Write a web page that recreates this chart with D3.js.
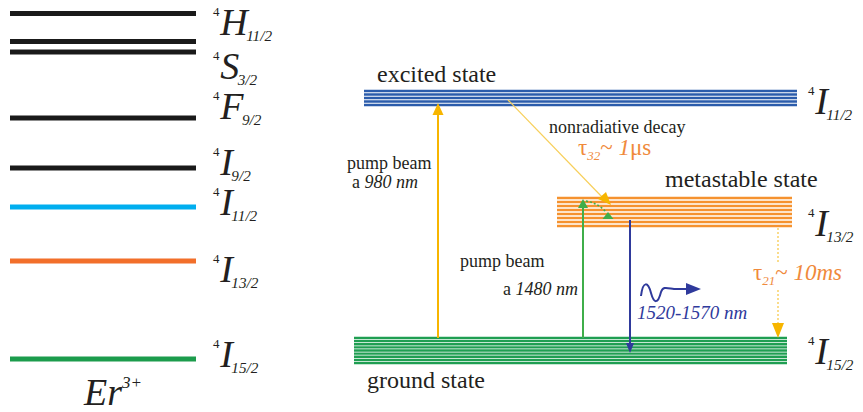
<!DOCTYPE html>
<html><head><meta charset="utf-8">
<script src="https://cdn.jsdelivr.net/npm/d3@7"></script>
<style>
body{margin:0;background:#fff}
svg{display:block}
text{fill:#231f20}
</style>
</head><body><svg id="svg"></svg>
<script>
const WIDTH = 863, HEIGHT = 412;
const FONT = "'Liberation Serif','Times New Roman',serif";

// Er3+ levels (left), energies in cm^-1
const levelLetters = ["H", "", "S", "F", "I", "I", "I", "I"];
const levelJ = ["11/2", "", "3/2", "9/2", "9/2", "11/2", "13/2", "15/2"];
const levelEnergy = [22900, 21050, 20350, 15980, 12660, 10080, 6500, 0];

// right: three level scheme
const bandNames = ["excited state", "metastable state", "ground state"];
const bandJ = ["11/2", "13/2", "15/2"];
const bandLineCount = [5, 8, 9];

// layout / style
const levelColors = ["#1a1a1a","#1a1a1a","#1a1a1a","#1a1a1a","#1a1a1a","#00aeef","#f26f2a","#1c9c4c"];
const levelLabelDy = [21, 0, 27, 1, 7, 8, 21, 8];
const bandColors = ["#2b5cab", "#f5922f", "#1f9e52"];
const bandX = [[364,797],[557,792],[354,787]];
const bandLabelY = [114, 236, 364];
const gold = "#f7b500", orangeTxt = "#f08a3c", navy = "#2f3a9c";

const svg = d3.select('#svg').attr('width',WIDTH).attr('height',HEIGHT).attr('font-family',FONT);
svg.append('rect').attr('width',WIDTH).attr('height',HEIGHT).attr('fill','#fff');

const y = d3.scaleLinear().domain([0, 22900]).range([359, 13.5]);

// term symbol like  ^4 I_{11/2}
function term(x, base, letter, j, size){
    let g = svg.append('g');
    g.append('text').attr('x',x).attr('y',base - size*0.5).attr('font-size',size*0.34).text('4');
    let L = g.append('text').attr('x',x + size*0.19).attr('y',base)
        .attr('font-size',size).attr('font-style','italic').text(letter);
    let w = L.node().getComputedTextLength();
    g.append('text').attr('x',x + size*0.19 + w - size*0.04).attr('y',base + size*0.16)
        .attr('font-size',size*0.4).attr('font-style','italic').text(j);
}

// left ladder
svg.selectAll('line.level').data(levelEnergy).enter().append('line')
    .attr('class','level')
    .attr('x1',10).attr('x2',196)
    .attr('y1',d => y(d)).attr('y2',d => y(d))
    .attr('stroke',(d,i) => levelColors[i]).attr('stroke-width',5);

levelEnergy.forEach((e,i) => {
    if(levelLetters[i]) term(213, y(e) + levelLabelDy[i], levelLetters[i], levelJ[i], 38);
});

svg.append('text').attr('x',84).attr('y',405).attr('font-size',38).attr('font-style','italic').text('Er');
svg.append('text').attr('x',122).attr('y',388).attr('font-size',17).attr('font-style','italic').text('3+');

// right bands
const bandTop = d3.scaleOrdinal().domain(bandNames).range([91, 198, 338]);
const bandBot = d3.scaleOrdinal().domain(bandNames).range([105, 226, 363]);

bandNames.forEach((name,i) => {
    let n = bandLineCount[i], t = bandTop(name), b = bandBot(name);
    let ys = d3.range(n).map(k => t + k*(b - t)/(n - 1));
    svg.append('g').selectAll('line').data(ys).enter().append('line')
        .attr('x1',bandX[i][0]).attr('x2',bandX[i][1])
        .attr('y1',d => d).attr('y2',d => d)
        .attr('stroke',bandColors[i]).attr('stroke-width',2.3);
    term(808, bandLabelY[i], 'I', bandJ[i], 38);
});

svg.append('text').attr('x',377).attr('y',82).attr('font-size',24).text(bandNames[0]);
svg.append('text').attr('x',665).attr('y',187).attr('font-size',24).text(bandNames[1]);
svg.append('text').attr('x',367).attr('y',388).attr('font-size',24).text(bandNames[2]);

// arrows
function head(x, yy, dir, w, h, color){
    // dir: 1 points up, -1 down; yy is the tip
    svg.append('path')
        .attr('d',`M${x},${yy} L${x - w/2},${yy + dir*h} L${x + w/2},${yy + dir*h} Z`)
        .attr('fill',color);
}
function line(x1,y1,x2,y2,color,w,dash){
    let l = svg.append('line').attr('x1',x1).attr('y1',y1).attr('x2',x2).attr('y2',y2)
        .attr('stroke',color).attr('stroke-width',w);
    if(dash) l.attr('stroke-dasharray',dash);
    return l;
}

// 980 nm pump
line(438, 338, 438, 110, gold, 2);
head(438, 103, 1, 11, 12, gold);
// nonradiative decay
line(508, 100, 604, 199, '#f7cf5a', 1.2);
svg.append('path').attr('d','M611,205 L598,199 L606,192 Z').attr('fill',gold);
// 1480 nm pump
line(583, 338, 583, 206, '#3fae4a', 2);
head(583, 199, 1, 10, 9, '#3fae4a');
svg.append('path').attr('d','M586,201 Q598,203 606,212').attr('fill','none')
    .attr('stroke','#3fae4a').attr('stroke-width',1.5).attr('stroke-dasharray','2,2');
head(608, 212, 1, 11, 7, '#3fae4a');
// emission
line(630, 220, 630, 345, navy, 2);
head(630, 353, -1, 8, 10, navy);
svg.append('path')
    .attr('d','M641,296 C643,280 648,282 651,293 C654,304 658,304 661,292 C663,286 667,288 674,289 L688,289')
    .attr('fill','none').attr('stroke',navy).attr('stroke-width',2);
svg.append('path').attr('d','M701,289 L686,283 L686,295 Z').attr('fill',navy);
// tau21 decay
line(778, 228, 778, 264, '#f7c640', 1.2, '2,2');
line(778, 290, 778, 324, '#f7c640', 1.2, '2,2');
head(778, 338, -1, 12, 15, gold);

// text
svg.append('text').attr('x',347).attr('y',169).attr('font-size',18).text('pump beam');
let t980 = svg.append('text').attr('x',352).attr('y',188).attr('font-size',18);
t980.append('tspan').text('a ');
t980.append('tspan').attr('font-style','italic').text('980 nm');

svg.append('text').attr('x',549).attr('y',133).attr('font-size',18).text('nonradiative decay');
let tau32 = svg.append('text').attr('x',578).attr('y',155).attr('font-size',23).style('fill',orangeTxt);
tau32.append('tspan').text('τ');
tau32.append('tspan').attr('font-size',13).attr('font-style','italic').attr('dy',5).text('32');
tau32.append('tspan').attr('dy',-5).text('~ ');
tau32.append('tspan').attr('font-style','italic').text('1');
tau32.append('tspan').text('μs');

svg.append('text').attr('x',460).attr('y',267).attr('font-size',18).text('pump beam');
let t1480 = svg.append('text').attr('x',503).attr('y',295).attr('font-size',18);
t1480.append('tspan').text('a ');
t1480.append('tspan').attr('font-style','italic').text('1480 nm');

svg.append('text').attr('x',637).attr('y',319).attr('font-size',19).attr('font-style','italic')
    .style('fill',navy).text('1520-1570 nm');

let tau21 = svg.append('text').attr('x',753).attr('y',280).attr('font-size',23).style('fill',orangeTxt);
tau21.append('tspan').text('τ');
tau21.append('tspan').attr('font-size',13).attr('font-style','italic').attr('dy',5).text('21');
tau21.append('tspan').attr('dy',-5).text('~ ');
tau21.append('tspan').attr('font-style','italic').text('10ms');
</script>
</body></html>
